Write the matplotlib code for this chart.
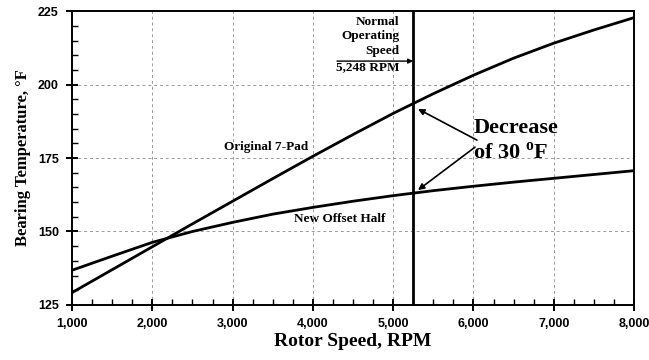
import matplotlib
matplotlib.use("Agg")
import matplotlib.pyplot as plt
from matplotlib.ticker import MultipleLocator, FuncFormatter

rpm = [1000, 1500, 2000, 2500, 3000, 3500, 4000, 4500, 5000, 5500, 6000, 6500, 7000, 7500, 8000]
orig_7pad = [129.2, 137.0, 144.8, 152.6, 160.3, 168.0, 175.6, 183.0, 190.2, 196.9,
             203.2, 209.0, 214.1, 218.6, 222.8]
new_offset = [136.8, 141.6, 146.3, 150.0, 153.1, 155.9, 158.2, 160.3, 162.2, 163.9,
              165.4, 166.8, 168.1, 169.4, 170.7]
normal_speed = 5248

serif = "Liberation Serif"
sans = "Liberation Sans"
plt.rcParams["mathtext.fontset"] = "custom"
plt.rcParams["mathtext.rm"] = "Liberation Serif:bold"
plt.rcParams["mathtext.bf"] = "Liberation Serif:bold"

fig = plt.figure(figsize=(6.49, 3.6), dpi=100)
ax = fig.add_axes([0.111, 0.153, 0.866, 0.816])

ax.set_xlim(1000, 8000)
ax.set_ylim(125, 225)

for y in [150, 175, 200]:
    ax.axhline(y, color="#999999", lw=0.7, ls=(0, (3, 3)), zorder=0)
for x in range(2000, 8000, 1000):
    ax.axvline(x, color="#999999", lw=0.7, ls=(0, (3, 3)), zorder=0)

ax.plot(rpm, orig_7pad, color="black", lw=2.0)
ax.plot(rpm, new_offset, color="black", lw=2.0)
ax.axvline(normal_speed, color="black", lw=2.0)

for s in ax.spines.values():
    s.set_linewidth(1.4)

ax.xaxis.set_major_locator(MultipleLocator(1000))
ax.xaxis.set_minor_locator(MultipleLocator(250))
ax.yaxis.set_major_locator(MultipleLocator(25))
ax.yaxis.set_minor_locator(MultipleLocator(5))
ax.xaxis.set_major_formatter(FuncFormatter(lambda v, p: f"{int(v):,}"))
ax.tick_params(which="major", direction="inout", length=9, width=1.4, pad=5)
ax.tick_params(which="minor", direction="in", length=4, width=1.0)
for lab in ax.get_xticklabels() + ax.get_yticklabels():
    lab.set_fontfamily(sans)
    lab.set_fontweight("bold")
    lab.set_fontsize(9)

ax.set_xlabel("Rotor Speed, RPM", fontfamily=serif, fontweight="bold", fontsize=14, labelpad=2)
ax.set_ylabel("Bearing Temperature, °F", fontfamily=serif, fontweight="bold", fontsize=12, labelpad=5)

ax.text(5080, 223.5, "Normal\nOperating\nSpeed", ha="right", va="top",
        fontfamily=serif, fontweight="bold", fontsize=9.5, linespacing=1.3)
ax.text(5080, 206.0, "5,248 RPM", ha="right", va="center",
        fontfamily=serif, fontweight="bold", fontsize=9.5)
ax.annotate("", xy=(normal_speed, 208.0), xytext=(4300, 208.0),
            arrowprops=dict(arrowstyle="-|>", color="black", lw=1.0, mutation_scale=7,
                            shrinkA=0, shrinkB=0))

ax.text(3420, 178.8, "Original 7-Pad", ha="center", va="center",
        fontfamily=serif, fontweight="bold", fontsize=9.5)
ax.text(4330, 154.2, "New Offset Half", ha="center", va="center",
        fontfamily=serif, fontweight="bold", fontsize=9.5)

ax.text(6000, 180.8, "Decrease\nof 30 $^{\\mathrm{o}}$F", ha="left", va="center",
        fontfamily=serif, fontweight="bold", fontsize=16, linespacing=1.25)
ax.annotate("", xy=(5309, 191.7), xytext=(6043, 181.1),
            arrowprops=dict(arrowstyle="-|>", color="black", lw=1.2, mutation_scale=9,
                            shrinkA=0, shrinkB=0))
ax.annotate("", xy=(5309, 164.1), xytext=(6019, 178.7),
            arrowprops=dict(arrowstyle="-|>", color="black", lw=1.2, mutation_scale=9,
                            shrinkA=0, shrinkB=0))

fig.savefig("out.png", dpi=100)
